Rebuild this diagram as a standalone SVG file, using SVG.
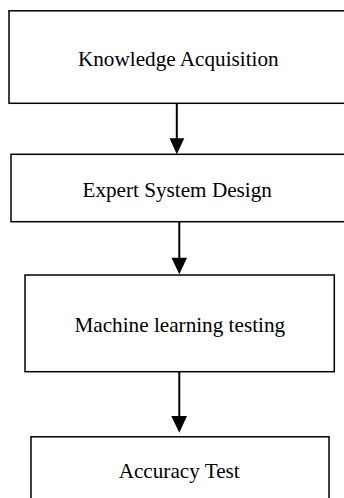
<svg xmlns="http://www.w3.org/2000/svg" width="344" height="498" viewBox="0 0 344 498">
<style>
.box{fill:#fff;stroke:#000;stroke-width:1.5}
.lbl{font-family:"Liberation Serif","Times New Roman",serif;font-size:21.2px;fill:#000;text-anchor:middle}
.conn line{stroke:#000;stroke-width:2}
.conn polygon{fill:#000}
</style>
<rect width="344" height="498" fill="#fff"/>
<g id="n1"><rect class="box" x="9" y="10.8" width="336" height="92.5"/><text class="lbl" x="178.3" y="65.7">Knowledge Acquisition</text></g>
<g id="n2"><rect class="box" x="11" y="154.3" width="334" height="67.4"/><text class="lbl" x="177.2" y="196.7">Expert System Design</text></g>
<g id="n3"><rect class="box" x="25" y="275" width="309.3" height="96.7"/><text class="lbl" x="179.8" y="331.7">Machine learning testing</text></g>
<g id="n4"><rect class="box" x="31" y="436.8" width="298" height="70"/><text class="lbl" x="179.2" y="478.3">Accuracy Test</text></g>
<g class="conn" id="connectors">
<line x1="176.8" y1="103.3" x2="176.8" y2="140"/><polygon points="169.5,138.3 184.3,138.3 176.8,154.3"/>
<line x1="179.3" y1="221.7" x2="179.3" y2="259"/><polygon points="171.5,257.7 187,257.7 179.3,274.3"/>
<line x1="179.3" y1="371.7" x2="179.3" y2="417"/><polygon points="171.3,416 187,416 179.3,432.7"/>
</g>
</svg>
